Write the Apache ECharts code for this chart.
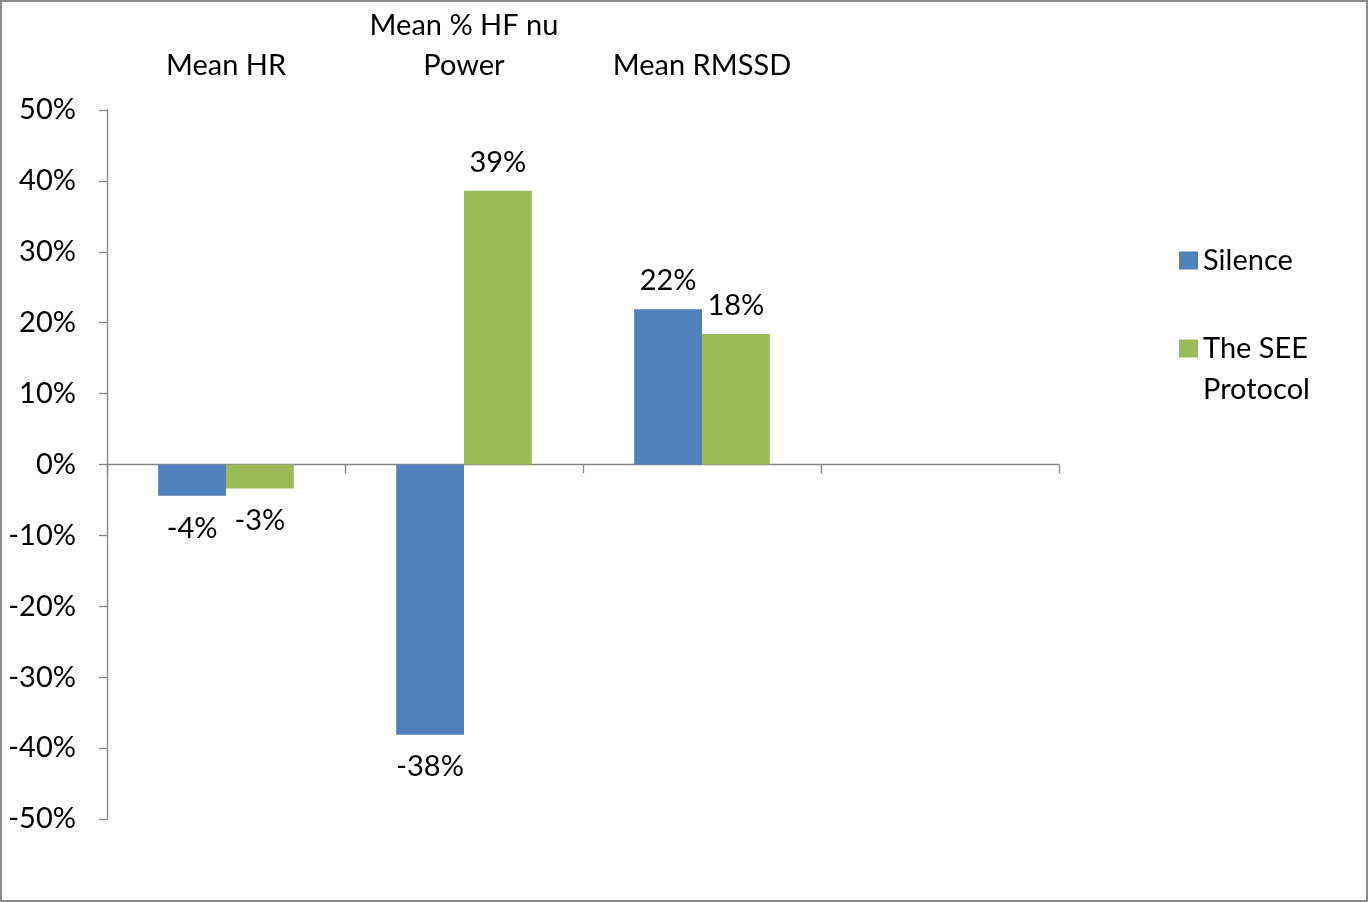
<!DOCTYPE html>
<html>
<head>
<meta charset="utf-8">
<script src="https://cdn.jsdelivr.net/npm/echarts@6/dist/echarts.min.js"></script>
<style>
  html, body { margin: 0; padding: 0; background: #fff; }
  #chart { width: 1368px; height: 902px; box-sizing: border-box; border: 2px solid #8a8a8a; }
</style>
</head>
<body>
<div id="chart"></div>
<script>
  const categories = ["Mean HR", "Mean % HF nu\nPower", "Mean RMSSD", ""];
  const silence = [-4.4, -38.1, 21.9, null];
  const seeProtocol = [-3.4, 38.6, 18.4, null];
  const seriesNames = ["Silence", "The SEE Protocol"];

  const font = "Lato, 'Open Sans', sans-serif";
  const fontSize = 29;
  const axisColor = "#868686";

  // negative bars get their label underneath, like the original
  const withLabelSide = (values) => values.map((v) => (v === null ? null : {
    value: v,
    label: { position: v < 0 ? "bottom" : "top", distance: v < 0 ? 18 : 14 },
  }));

  const legendText = { fontFamily: font, fontSize, color: "#000", lineHeight: 41 };

  const chart = echarts.init(document.getElementById("chart"), null, { renderer: "canvas" });
  chart.setOption({
    animation: false,
    backgroundColor: "#fff",
    textStyle: { fontFamily: font },
    grid: { left: 105, right: 307, top: 108, bottom: 81 },
    legend: [
      {
        left: 1177, top: 238, padding: 0, orient: "vertical",
        itemWidth: 19, itemHeight: 18, icon: "rect",
        textStyle: legendText,
        data: [{ name: seriesNames[0] }],
      },
      {
        // blank first line keeps the swatch level with "The SEE"
        left: 1177, top: 285, padding: 0, orient: "vertical",
        itemWidth: 19, itemHeight: 18, icon: "rect",
        formatter: () => " \nThe SEE\nProtocol",
        textStyle: legendText,
        data: [{ name: seriesNames[1] }],
      },
    ],
    xAxis: [
      {
        type: "category",
        data: categories,
        position: "bottom",
        axisLine: { onZero: true, lineStyle: { color: axisColor, width: 1.3 } },
        axisTick: { show: true, length: 9, lineStyle: { color: axisColor, width: 1.3 } },
        axisLabel: { show: false },
        splitLine: { show: false },
      },
      {
        type: "category",
        data: categories,
        position: "top",
        axisLine: { show: false, onZero: false },
        axisTick: { show: false },
        axisLabel: {
          show: true, interval: 0, margin: 24,
          color: "#000", fontFamily: font, fontSize, lineHeight: 40,
        },
      },
    ],
    yAxis: {
      type: "value",
      min: -50,
      max: 50,
      interval: 10,
      axisLine: { show: true, lineStyle: { color: axisColor, width: 1.3 } },
      axisTick: { show: true, length: 8, lineStyle: { color: axisColor, width: 1.3 } },
      axisLabel: { margin: 31, color: "#000", fontFamily: font, fontSize, formatter: (v) => `${v}%` },
      splitLine: { show: false },
    },
    series: [
      {
        name: seriesNames[0],
        type: "bar",
        data: withLabelSide(silence),
        itemStyle: { color: "#4F81BD" },
        barGap: "0%",
        barCategoryGap: "43%",
        label: { show: true, color: "#000", fontFamily: font, fontSize, formatter: (p) => `${Math.round(p.value)}%` },
      },
      {
        name: seriesNames[1],
        type: "bar",
        data: withLabelSide(seeProtocol),
        itemStyle: { color: "#9BBB59" },
        barGap: "0%",
        barCategoryGap: "43%",
        label: { show: true, color: "#000", fontFamily: font, fontSize, formatter: (p) => `${Math.round(p.value)}%` },
      },
    ],
  });
</script>
</body>
</html>
